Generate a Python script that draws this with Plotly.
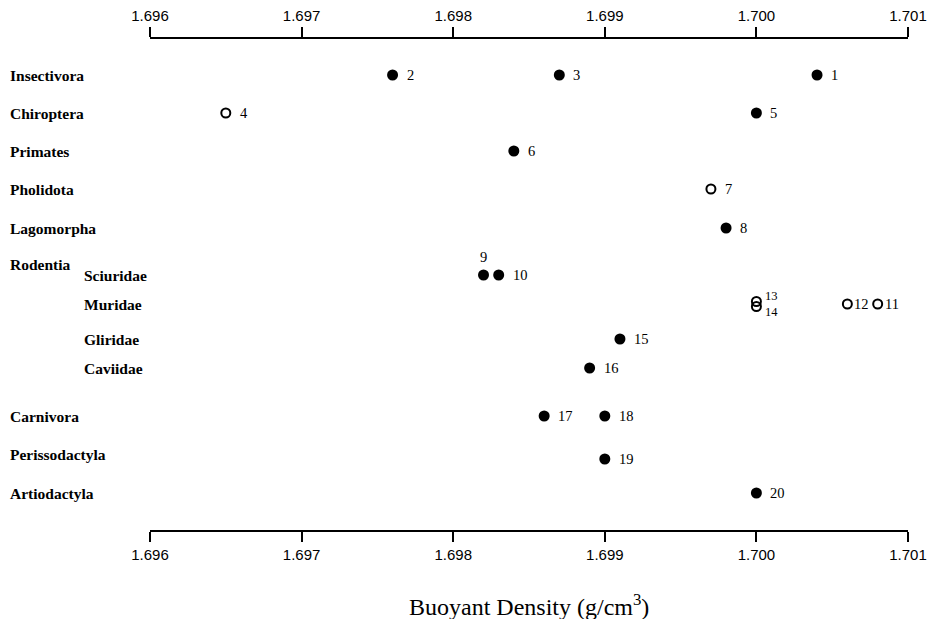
import plotly.graph_objects as go

# ---------------- data ----------------
sample_ids = [1, 2, 3, 4, 5, 6, 7, 8, 9, 10, 11, 12, 13, 14, 15, 16, 17, 18, 19, 20]
density = [1.7004, 1.6976, 1.6987, 1.6965, 1.7000, 1.6984, 1.6997, 1.6998, 1.6982, 1.6983,
           1.7008, 1.7006, 1.7000, 1.7000, 1.6991, 1.6989, 1.6986, 1.6990, 1.6990, 1.7000]
group = ["Insectivora", "Insectivora", "Insectivora", "Chiroptera", "Chiroptera", "Primates",
         "Pholidota", "Lagomorpha", "Sciuridae", "Sciuridae", "Muridae", "Muridae", "Muridae",
         "Muridae", "Gliridae", "Caviidae", "Carnivora", "Carnivora", "Perissodactyla",
         "Artiodactyla"]
filled = [True, True, True, False, True, True, False, True, True, True,
          False, False, False, False, True, True, True, True, True, True]
orders = ["Insectivora", "Chiroptera", "Primates", "Pholidota", "Lagomorpha", "Rodentia",
          "Carnivora", "Perissodactyla", "Artiodactyla"]
families = ["Sciuridae", "Muridae", "Gliridae", "Caviidae"]
tick_vals = [1.696, 1.697, 1.698, 1.699, 1.700, 1.701]
tick_text = ["1.696", "1.697", "1.698", "1.699", "1.700", "1.701"]

# ---------------- layout helpers (row positions, px from top axis) ----------------
row_pos = {"Insectivora": 36, "Chiroptera": 74, "Primates": 112, "Pholidota": 150,
           "Lagomorpha": 189, "Rodentia": 225, "Sciuridae": 236, "Muridae": 265,
           "Gliridae": 300, "Caviidae": 329, "Carnivora": 377, "Perissodactyla": 420,
           "Artiodactyla": 454}
label_shift = {"Perissodactyla": 5}

# stack coincident points vertically (13/14)
seen = {}
for d, g in zip(density, group):
    seen[(d, g)] = seen.get((d, g), 0) + 1
ys = []
counter = {}
for d, g in zip(density, group):
    if seen[(d, g)] > 1:
        c = counter.get((d, g), 0)
        counter[(d, g)] = c + 1
        ys.append(row_pos[g] + (c - 0.5) * 5)
    else:
        ys.append(row_pos[g])

fig = go.Figure()
fx = [d for d, f in zip(density, filled) if f]
fy = [y for y, f in zip(ys, filled) if f]
ox = [d for d, f in zip(density, filled) if not f]
oy = [y for y, f in zip(ys, filled) if not f]

fig.add_trace(go.Scatter(x=fx, y=fy, mode="markers",
                         marker=dict(size=11, color="black", line=dict(width=0)),
                         showlegend=False, hoverinfo="skip"))
fig.add_trace(go.Scatter(x=ox, y=oy, mode="markers",
                         marker=dict(size=9, color="rgba(0,0,0,0)", line=dict(width=2, color="black")),
                         showlegend=False, hoverinfo="skip"))
# invisible trace for top axis
fig.add_trace(go.Scatter(x=[tick_vals[0], tick_vals[-1]], y=[0, 0], xaxis="x2", mode="markers",
                         marker=dict(opacity=0), showlegend=False, hoverinfo="skip"))

serif = "Liberation Serif, Times New Roman, serif"
sans = "Liberation Sans, Arial, sans-serif"
num_font = dict(family=serif, size=14.5, color="black")
small_font = dict(family=serif, size=12.5, color="black")

annotations = []
stacked = [sid for sid, d, g in zip(sample_ids, density, group) if seen[(d, g)] > 1]
stacked_done = False
for sid, d, y, g in zip(sample_ids, density, ys, group):
    if sid == 9:
        annotations.append(dict(x=d, y=y, xref="x", yref="y", text=str(sid), showarrow=False,
                                xanchor="center", yanchor="bottom", yshift=8, font=num_font))
    elif sid in stacked:
        if not stacked_done:
            stacked_done = True
            annotations.append(dict(x=d, y=row_pos[g], xref="x", yref="y",
                                    text="<br>".join(str(s) for s in stacked),
                                    showarrow=False, xanchor="left", yanchor="middle",
                                    align="left", xshift=8, borderpad=0, font=small_font))
    elif sid in (11, 12):
        annotations.append(dict(x=d, y=y, xref="x", yref="y", text=str(sid), showarrow=False,
                                xanchor="left", yanchor="middle", xshift=5, font=num_font))
    else:
        annotations.append(dict(x=d, y=y, xref="x", yref="y", text=str(sid), showarrow=False,
                                xanchor="left", yanchor="middle", xshift=12, font=num_font))

lab_font = dict(family=serif, size=15.5, color="black")
for name in orders:
    annotations.append(dict(x=-0.1873, y=row_pos[name], xref="paper", yref="y",
                            text="<b>%s</b>" % name, showarrow=False, xanchor="left",
                            yanchor="middle", yshift=label_shift.get(name, 0), font=lab_font))
for name in families:
    annotations.append(dict(x=-0.0897, y=row_pos[name], xref="paper", yref="y",
                            text="<b>%s</b>" % name, showarrow=False, xanchor="left",
                            yanchor="middle", font=lab_font))

annotations.append(dict(x=0.5, y=-0.153, xref="paper", yref="paper",
                        text="Buoyant Density (g/cm<sup>3</sup>)", showarrow=False,
                        xanchor="center", yanchor="middle",
                        font=dict(family=serif, size=24, color="black")))

axis_common = dict(range=[tick_vals[0], tick_vals[-1]], tickvals=tick_vals, ticktext=tick_text,
                   showline=True, linecolor="black", linewidth=2, ticks="outside",
                   ticklen=10, tickwidth=2, tickcolor="black", showgrid=False, zeroline=False,
                   automargin=False, tickfont=dict(family=sans, size=15, color="black"))

fig.update_layout(
    template="none",
    width=931, height=619,
    margin=dict(l=150, r=23, t=39, b=89, pad=0),
    paper_bgcolor="white", plot_bgcolor="white",
    xaxis=dict(side="bottom", **axis_common),
    xaxis2=dict(side="top", overlaying="x", anchor="y", **axis_common),
    yaxis=dict(range=[491, 0], visible=False, showgrid=False, zeroline=False, automargin=False),
    annotations=annotations,
)

fig.write_html("out.html",
               config={"displayModeBar": False, "staticPlot": True},
               post_script="document.body.style.margin='0';document.body.style.padding='0';"
                           "document.body.style.overflow='hidden';")
